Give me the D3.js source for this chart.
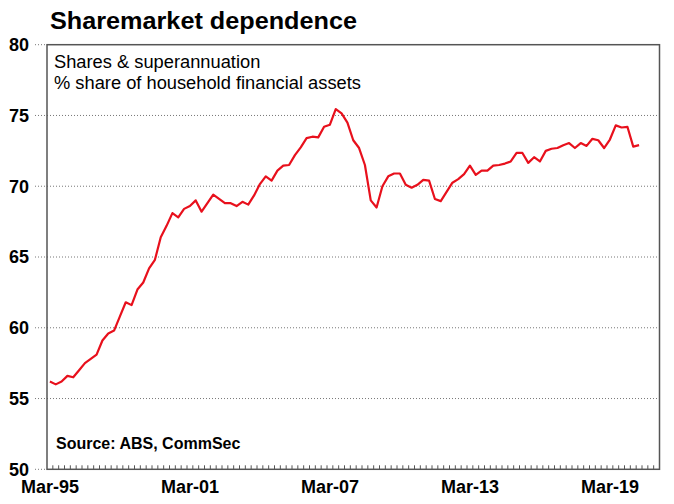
<!DOCTYPE html>
<html><head><meta charset="utf-8">
<script src="https://cdn.jsdelivr.net/npm/d3@7"></script>
<style>
html,body{margin:0;padding:0;background:#fff;}
text{font-family:"Liberation Sans",Arial,sans-serif;}
</style></head>
<body>
<svg id="c" width="674" height="504"></svg>
<script>
const titleText = "Sharemarket dependence";
const subtitleLines = ["Shares & superannuation", "% share of household financial assets"];
const sourceText = "Source: ABS, CommSec";
const yTicks = [50, 55, 60, 65, 70, 75, 80];
const xTickLabels = ["Mar-95", "Mar-01", "Mar-07", "Mar-13", "Mar-19"];
const months = ["Mar", "Jun", "Sep", "Dec"];
const startYear = 1995, nQuarters = 105;
const categories = [];
for (let i = 0; i < nQuarters; i++) {
  const yr = (startYear + Math.floor(i / 4)) % 100;
  categories.push(months[i % 4] + "-" + String(yr).padStart(2, "0"));
}
const values = [
  56.2, 56.0, 56.2, 56.6, 56.5, 57.0, 57.5, 57.8, 58.1, 59.1,
  59.6, 59.8, 60.8, 61.8, 61.6, 62.7, 63.2, 64.2, 64.8, 66.4,
  67.2, 68.1, 67.8, 68.4, 68.6, 69.0, 68.2, 68.8, 69.4, 69.1,
  68.8, 68.8, 68.6, 68.9, 68.7, 69.35, 70.15, 70.7, 70.4, 71.1,
  71.45, 71.5, 72.2, 72.75, 73.4, 73.5, 73.45, 74.2, 74.35, 75.45,
  75.15, 74.5, 73.25, 72.7, 71.5, 69.0, 68.5, 70.0, 70.7, 70.9,
  70.9, 70.1, 69.9, 70.1, 70.45, 70.4, 69.1, 68.95, 69.6, 70.25,
  70.5, 70.85, 71.45, 70.8, 71.1, 71.1, 71.45, 71.5, 71.6, 71.75,
  72.35, 72.35, 71.65, 72.05, 71.75, 72.5, 72.65, 72.7, 72.9, 73.05,
  72.7, 73.05, 72.85, 73.35, 73.25, 72.7, 73.3, 74.3, 74.15, 74.2,
  72.8, 72.9
];
const data = values.map((v, i) => ({cat: categories[i], v}));

const svg = d3.select("#c");
const L = 47, R = 659.5, T = 44.7, B = 469.3;
const x = d3.scaleBand().domain(categories).range([L, R]).padding(0);
const y = d3.scaleLinear().domain([50, 80]).range([B, T]);
const cx = c => x(c) + x.bandwidth() / 2;

// gridlines (dotted) incl. outside leaders
svg.append("g").selectAll("line").data(yTicks).join("line")
  .attr("x1", 35).attr("x2", d => (d === 50 || d === 80) ? L : R)
  .attr("y1", d => y(d)).attr("y2", d => y(d))
  .attr("stroke", "#777").attr("stroke-width", 1).attr("stroke-dasharray", "1,2");

// y labels
svg.append("g").selectAll("text").data(yTicks).join("text")
  .attr("x", 29).attr("y", d => y(d)).attr("dy", "0.35em")
  .attr("text-anchor", "end").attr("font-size", 18).attr("font-weight", "bold")
  .attr("fill", "#000").text(d => d);

// bottom minor ticks (inside)
svg.append("g").selectAll("line").data(categories.slice(1)).join("line")
  .attr("x1", d => x(d)).attr("x2", d => x(d))
  .attr("y1", B).attr("y2", B - 4)
  .attr("stroke", "#555").attr("stroke-width", 1);

// frame
svg.append("rect").attr("x", L).attr("y", T).attr("width", R - L).attr("height", B - T)
  .attr("fill", "none").attr("stroke", "#555").attr("stroke-width", 1.5);

// x labels
svg.append("g").selectAll("text").data(xTickLabels).join("text")
  .attr("x", d => cx(d)).attr("y", 493)
  .attr("text-anchor", "middle").attr("font-size", 18).attr("font-weight", "bold")
  .attr("fill", "#000").text(d => d);

// line
const line = d3.line().x(d => cx(d.cat)).y(d => y(d.v));
svg.append("path").datum(data).attr("d", line)
  .attr("fill", "none").attr("stroke", "#e8101c").attr("stroke-width", 2.2)
  .attr("stroke-linejoin", "round");

// title
svg.append("text").attr("x", 50).attr("y", 28.5)
  .attr("font-size", 23).attr("font-weight", "bold").attr("fill", "#000")
  .attr("textLength", 307).attr("lengthAdjust", "spacingAndGlyphs")
  .text(titleText);

// subtitle
svg.append("g").selectAll("text").data(subtitleLines).join("text")
  .attr("x", 54).attr("y", (d, i) => 67.5 + i * 21.5)
  .attr("font-size", 18.3).attr("fill", "#000").text(d => d);

// source
svg.append("text").attr("x", 56).attr("y", 449)
  .attr("font-size", 16).attr("font-weight", "bold").attr("fill", "#000")
  .text(sourceText);
</script>
</body></html>
